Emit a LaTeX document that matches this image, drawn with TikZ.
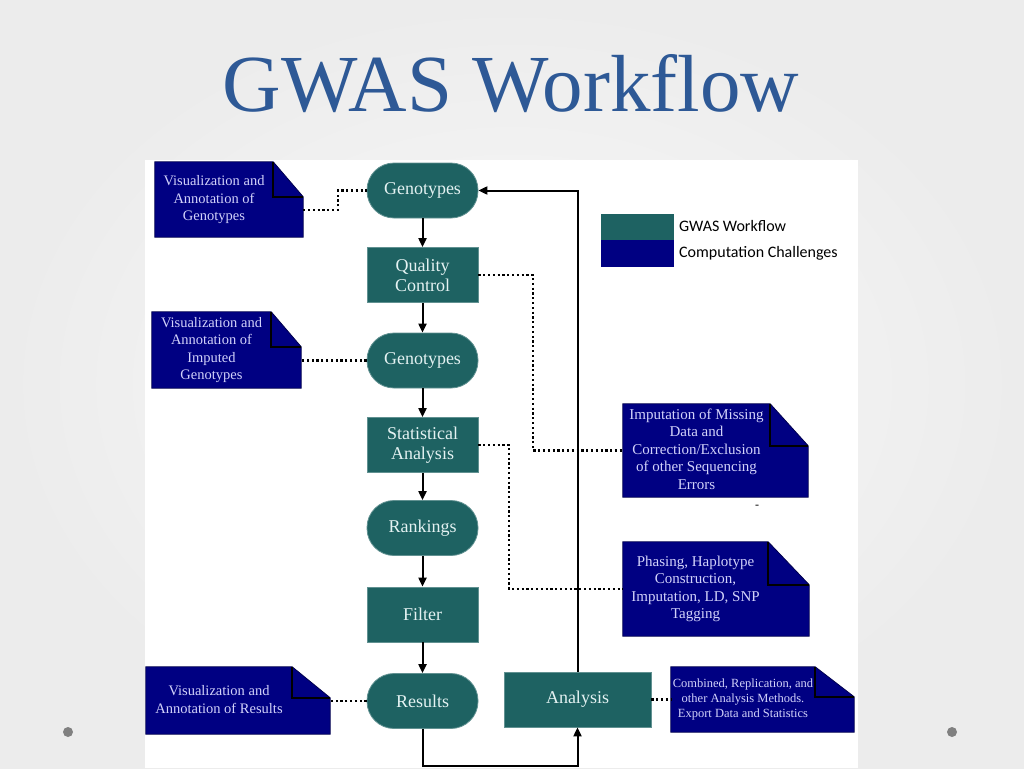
\documentclass[tikz,border=0pt]{standalone}
\usepackage{fontspec}
\setmainfont{Liberation Serif}
\newfontfamily\legfont{Carlito}
\usetikzlibrary{arrows.meta,calc}
\definecolor{tealc}{RGB}{30,98,98}
\definecolor{navyc}{RGB}{0,0,130}
\definecolor{titlec}{RGB}{46,89,150}
\definecolor{tealtext}{RGB}{228,242,242}
\definecolor{navytext}{RGB}{210,210,250}
\definecolor{dotc}{RGB}{128,128,128}
\pgfdeclarelayer{bg}
\pgfdeclarelayer{notes}
\pgfsetlayers{bg,notes,main}
\newcommand\notefold[3]{%
  \begin{pgfonlayer}{notes}
  \fill[navyc, draw=navyc!60!black, line width=0.8pt] (#1.north west) -- ([xshift=-#2pt]#1.north east) -- ([yshift=-#3pt]#1.north east) -- (#1.south east) -- (#1.south west) -- cycle;
  \draw[black, line width=1.6pt] ([xshift=-#2pt]#1.north east) |- ([yshift=-#3pt]#1.north east);
  \end{pgfonlayer}}
\tikzset{
  flowbox/.style={draw=tealc!70!white, line width=0.8pt, fill=tealc, text=tealtext,
    minimum width=111pt, minimum height=55pt, inner sep=0pt, align=center,
    font=\fontsize{18}{20}\selectfont},
  stadium/.style={flowbox, rounded corners=27pt},
  notebox/.style 2 args={minimum width=#1pt, minimum height=#2pt, inner sep=0pt,
    text=navytext, font=\fontsize{15}{17.5}\selectfont},
  arr/.style={line width=2pt, -{Triangle[length=9pt,width=8pt]}},
  dotline/.style={line width=2.2pt, dash pattern=on 2.2pt off 2.6pt},
  legtext/.style={anchor=west, inner sep=0pt, font=\legfont\fontsize{16}{18}\selectfont, text=black}
}
\newcommand\nt[2]{\begin{tabular}{@{}c@{}}#2\end{tabular}\hspace*{#1pt}}
\begin{document}
\begin{tikzpicture}[x=1pt,y=-1pt]
\useasboundingbox (0,0) rectangle (1024,768);
\begin{pgfonlayer}{bg}
  \shade[inner color=white!96!gray, outer color=white!85!gray] (0,0) rectangle (1024,768);
  \fill[white] (145,160) rectangle (858,768);
  \fill[dotc] (68,732) circle (5pt);
  \fill[dotc] (952,732) circle (5pt);
\end{pgfonlayer}

% title
\node[anchor=base, text=titlec, font=\fontsize{81}{90}\selectfont] (title) at (511,111) {GWAS Workflow};

% main flow
\node[stadium] (g1) at (422.5,190.5) {Genotypes};
\node[flowbox] (qc) at (422.5,275) {Quality\\Control};
\node[stadium] (g2) at (422.5,360.5) {Genotypes};
\node[flowbox] (sa) at (422.5,445) {Statistical\\Analysis};
\node[stadium] (rk) at (422.5,528) {Rankings};
\node[flowbox] (fl) at (422.5,614.5) {Filter};
\node[stadium] (rs) at (422.5,701) {Results};
\node[flowbox, minimum width=147pt] (an) at (577.5,699.5) {Analysis};

% notes
\node[notebox={148}{75}, font=\fontsize{14.5}{17.5}\selectfont] (v1) at (229,199.5) {\nt{30}{Visualization and\\Annotation of\\Genotypes}};
\notefold{v1}{30}{35}
\node[notebox={149}{76}, font=\fontsize{14.5}{17.5}\selectfont] (v2) at (226.5,350) {\nt{30}{Visualization and\\Annotation of\\Imputed\\Genotypes}};
\notefold{v2}{30}{35}
\node[notebox={184}{67}, font=\fontsize{14.5}{18}\selectfont] (v3) at (238,700.5) {\nt{38}{Visualization and\\Annotation of Results}};
\notefold{v3}{38}{31}
\node[notebox={185}{93}] (im) at (715.5,450.5) {\nt{38}{Imputation of Missing\\Data and\\Correction/Exclusion\\of other Sequencing\\Errors}};
\notefold{im}{38}{42}
\node[notebox={186}{94}] (ph) at (716,589) {\nt{41}{Phasing, Haplotype\\Construction,\\Imputation, LD, SNP\\Tagging}};
\notefold{ph}{41}{43}
\node[notebox={183}{65}, font=\fontsize{12.5}{15}\selectfont] (cb) at (762.5,699.5) {\nt{39}{Combined, Replication, and\\other Analysis Methods.\\Export Data and Statistics}};
\notefold{cb}{39}{30}
\node[font=\fontsize{12}{12}\selectfont, inner sep=0pt] (dashmark) at (757,507) {-};

% legend
\node[fill=tealc, minimum width=73pt, minimum height=26pt, inner sep=0pt] (lg1) at (637.5,227) {};
\node[fill=navyc, minimum width=73pt, minimum height=27pt, inner sep=0pt] (lg2) at (637.5,253.5) {};
\node[legtext] (lt1) at (679,226) {GWAS Workflow};
\node[legtext] (lt2) at (679,253) {Computation Challenges};

% arrows
\draw[arr] (g1) -- (qc);
\draw[arr] (qc) -- (g2);
\draw[arr] (g2) -- (sa);
\draw[arr] (sa) -- (rk);
\draw[arr] (rk) -- (fl);
\draw[arr] (fl) -- (rs);
\coordinate (bottomline) at (0,766);
\draw[arr] (rs.south) -- (rs.south |- bottomline) -| (an.south);
\draw[arr] (an.north) |- (g1.east);

% dotted links
\coordinate (jog1) at (338,210);
\draw[dotline] (v1.east |- jog1) -- (jog1) |- (g1.west);
\draw[dotline] (g2.west) -- (g2.west -| v2.east);
\draw[dotline] (rs.west) -- (rs.west -| v3.east);
\coordinate (qcx) at (533,0);
\draw[dotline] (qc.east) -| (qcx |- im.west) -- (im.west);
\coordinate (sax) at (509,0);
\draw[dotline] (sa.east) -| (sax |- ph.west) -- (ph.west);
\draw[dotline] (an.east) -- (cb.west);
\end{tikzpicture}
\end{document}
